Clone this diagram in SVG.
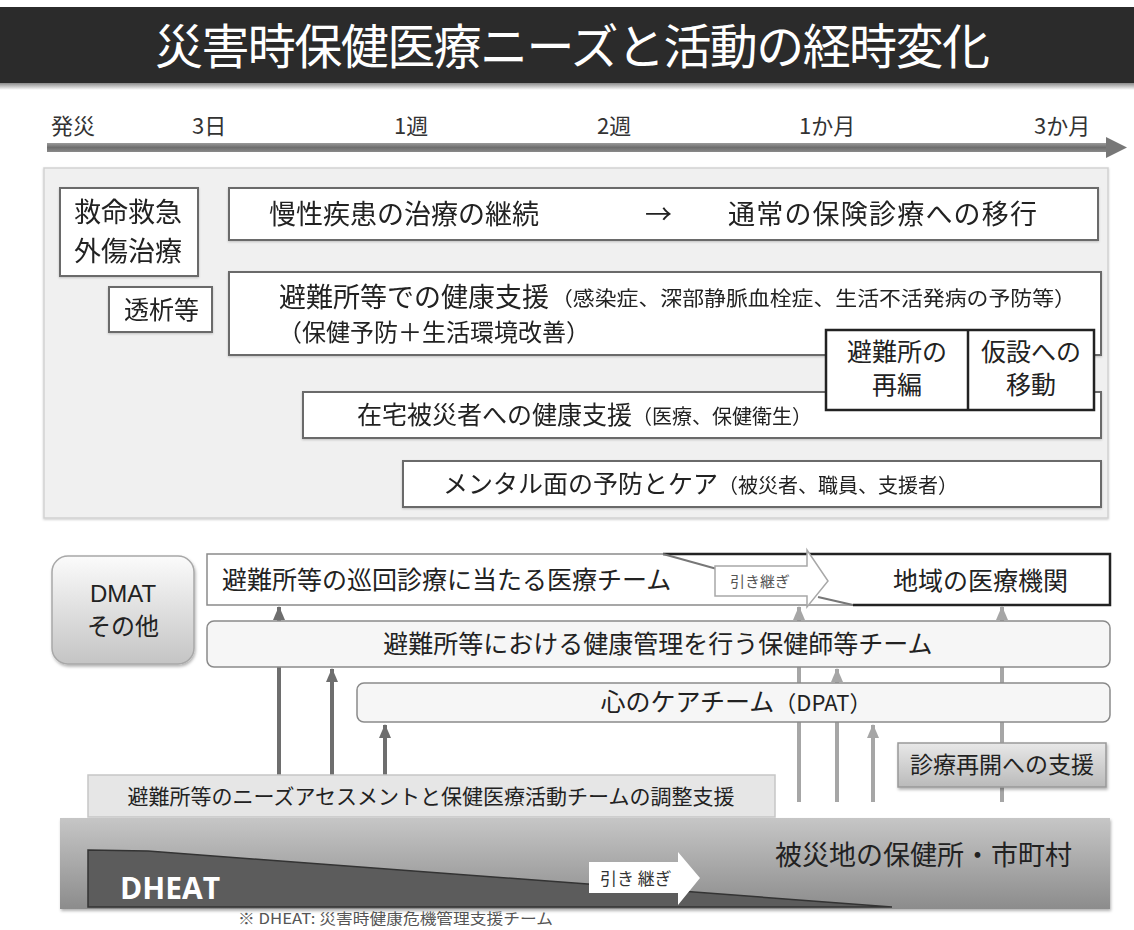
<svg xmlns="http://www.w3.org/2000/svg" width="1134" height="930" viewBox="0 0 1134 930">
<defs>
<style>
text{font-family:"Noto Sans CJK JP","Noto Sans",sans-serif;fill:#222}
.box{fill:#fff;stroke:#6a6a6a;stroke-width:2}
.rbox{fill:#f6f6f6;stroke:#8a8a8a;stroke-width:1.5}
.f27{font-size:27px}
.f25{font-size:25px}
.f24{font-size:24px}
.sm{font-size:19px}
.tl{font-size:22px;fill:#333}
.dark{stroke:#6e6e6e;stroke-width:4;fill:none}
.light{stroke:#a6a6a6;stroke-width:4;fill:none}
</style>
<linearGradient id="gShade" x1="0" y1="0" x2="0" y2="1"><stop offset="0" stop-color="#8a8a8a"/><stop offset="1" stop-color="#ffffff"/></linearGradient>
<linearGradient id="gDmat" x1="0" y1="0" x2="0" y2="1"><stop offset="0" stop-color="#fbfbfb"/><stop offset="1" stop-color="#c4c4c4"/></linearGradient>
<linearGradient id="gBtn" x1="0" y1="0" x2="0" y2="1"><stop offset="0" stop-color="#e8e8e8"/><stop offset="1" stop-color="#bababa"/></linearGradient>
<linearGradient id="gBand" x1="0" y1="0" x2="0" y2="1"><stop offset="0" stop-color="#c6c6c6"/><stop offset="1" stop-color="#8c8c8c"/></linearGradient>
<linearGradient id="gTl" x1="0" y1="0" x2="0" y2="1"><stop offset="0" stop-color="#9a9a9a"/><stop offset="0.5" stop-color="#6e6e6e"/><stop offset="1" stop-color="#8a8a8a"/></linearGradient>
<filter id="sh" x="-10%" y="-10%" width="120%" height="130%"><feDropShadow dx="1" dy="2" stdDeviation="1.5" flood-color="#000" flood-opacity="0.3"/></filter>
<filter id="sh2" x="-5%" y="-5%" width="110%" height="120%"><feDropShadow dx="0" dy="1" stdDeviation="1" flood-color="#000" flood-opacity="0.2"/></filter>
<marker id="mDark" viewBox="0 0 14 12" refX="13" refY="6" markerWidth="14" markerHeight="12" markerUnits="userSpaceOnUse" orient="auto"><path d="M0,0 L14,6 L0,12 z" fill="#6e6e6e"/></marker>
<marker id="mLight" viewBox="0 0 14 12" refX="13" refY="6" markerWidth="14" markerHeight="12" markerUnits="userSpaceOnUse" orient="auto"><path d="M0,0 L14,6 L0,12 z" fill="#a6a6a6"/></marker>
</defs>
<rect width="1134" height="930" fill="#fff"/>

<g id="title">
<rect x="0" y="7" width="1134" height="76" fill="#2b2b2b"/>
<rect x="0" y="83" width="1134" height="7" fill="url(#gShade)"/>
<text x="155" y="64" textLength="835" lengthAdjust="spacing" style="font-size:48px;fill:#fff">災害時保健医療ニーズと活動の経時変化</text>
</g>

<g id="timeline">
<text class="tl" x="51" y="134">発災</text>
<text class="tl" x="192" y="134">3日</text>
<text class="tl" x="394" y="134">1週</text>
<text class="tl" x="597" y="134">2週</text>
<text class="tl" x="799" y="134">1か月</text>
<text class="tl" x="1034" y="134">3か月</text>
<rect x="47" y="143" width="1061" height="9" fill="url(#gTl)"/>
<polygon points="1106,137 1127,147.5 1106,158" fill="#777"/>
</g>

<g id="panel">
<rect x="44" y="168" width="1064" height="350" fill="#f0f0f0" stroke="#d2d2d2" stroke-width="1.5" filter="url(#sh2)"/>
</g>

<g id="n-kyumei" filter="url(#sh2)">
<rect class="box" x="60" y="188" width="138" height="88"/>
<text class="f27" x="74" y="222">救命救急</text>
<text class="f27" x="74" y="261">外傷治療</text>
</g>
<g id="n-toseki" filter="url(#sh2)">
<rect class="box" x="109" y="287" width="103" height="45"/>
<text class="f25" x="124" y="319">透析等</text>
</g>
<g id="n-mansei" filter="url(#sh2)">
<rect class="box" x="229" y="188" width="869" height="52"/>
<text class="f27" x="269" y="224">慢性疾患の治療の継続</text>
<text class="f27" x="645" y="224">→</text>
<text class="f27" x="728" y="224" textLength="309" lengthAdjust="spacing">通常の保険診療への移行</text>
</g>
<g id="n-hinan" filter="url(#sh2)">
<rect class="box" x="229" y="272" width="872" height="83"/>
<text class="f27" x="279" y="307">避難所等での健康支援</text>
<text x="551" y="306" textLength="525" lengthAdjust="spacingAndGlyphs" style="font-size:20px">（感染症、深部静脈血栓症、生活不活発病の予防等）</text>
<text class="f24" x="278" y="341">（保健予防＋生活環境改善）</text>
</g>
<g id="n-zaitaku" filter="url(#sh2)">
<rect class="box" x="303" y="392" width="798" height="46"/>
<text class="f25" x="357" y="424">在宅被災者への健康支援<tspan style="font-size:20px">（医療、保健衛生）</tspan></text>
</g>
<g id="n-mental" filter="url(#sh2)">
<rect class="box" x="403" y="461" width="698" height="46"/>
<text class="f25" x="443" y="493">メンタル面の予防とケア<tspan style="font-size:20px">（被災者、職員、支援者）</tspan></text>
</g>
<g id="n-saihen">
<rect x="826" y="330" width="268" height="80" fill="#fff" stroke="#222" stroke-width="2.5"/>
<line x1="968" y1="330" x2="968" y2="410" stroke="#222" stroke-width="2.5"/>
<text class="f25" x="897" y="361" text-anchor="middle">避難所の</text>
<text class="f25" x="897" y="394" text-anchor="middle">再編</text>
<text class="f25" x="1031" y="361" text-anchor="middle">仮設への</text>
<text class="f25" x="1031" y="394" text-anchor="middle">移動</text>
</g>

<g id="connectors">
<line class="dark" x1="279" y1="775" x2="279" y2="607" marker-end="url(#mDark)"/>
<line class="dark" x1="332" y1="775" x2="332" y2="669" marker-end="url(#mDark)"/>
<line class="dark" x1="385" y1="775" x2="385" y2="725" marker-end="url(#mDark)"/>
<line class="light" x1="799" y1="802" x2="799" y2="607" marker-end="url(#mLight)"/>
<line class="light" x1="837" y1="802" x2="837" y2="669" marker-end="url(#mLight)"/>
<line class="light" x1="873" y1="802" x2="873" y2="725" marker-end="url(#mLight)"/>
<line class="light" x1="1002" y1="802" x2="1002" y2="607" marker-end="url(#mLight)"/>
</g>

<g id="n-dmat">
<rect x="52" y="556" width="142" height="108" rx="16" fill="url(#gDmat)" stroke="#a8a8a8" stroke-width="1.5" filter="url(#sh)"/>
<text x="123" y="602" text-anchor="middle" style="font-size:24px;font-family:'Liberation Sans','Noto Sans CJK JP',sans-serif">DMAT</text>
<text class="f24" x="123" y="635" text-anchor="middle">その他</text>
</g>
<g id="n-iryo">
<rect x="207" y="554" width="903" height="51" fill="#fff" stroke="#8a8a8a" stroke-width="1.5"/>
<polyline points="663,554 1110,554 1110,605 853,605" fill="none" stroke="#222" stroke-width="2.5"/>
<line x1="663" y1="554" x2="717" y2="569" stroke="#777" stroke-width="2"/>
<line x1="818" y1="597" x2="853" y2="605" stroke="#777" stroke-width="2"/>
<text class="f25" x="222" y="589">避難所等の巡回診療に当たる医療チーム</text>
<text class="f25" x="893" y="590">地域の医療機関</text>
</g>
<g id="n-hikitsugi1">
<polygon points="715,566 807,566 807,550 828,581 807,607 807,596 715,596" fill="#fff" stroke="#a8a8a8" stroke-width="1.5"/>
<text x="760" y="587" text-anchor="middle" style="font-size:15px;fill:#555">引き継ぎ</text>
</g>
<g id="n-hokenshi">
<rect class="rbox" x="207" y="621" width="903" height="46" rx="7"/>
<text class="f25" x="658" y="653" text-anchor="middle">避難所等における健康管理を行う保健師等チーム</text>
</g>
<g id="n-dpat">
<rect class="rbox" x="357" y="683" width="753" height="39" rx="7"/>
<text class="f25" x="736" y="711" text-anchor="middle">心のケアチーム<tspan style="font-size:22px">（DPAT）</tspan></text>
</g>
<g id="n-saikai">
<rect x="898" y="743" width="208" height="44" fill="url(#gBtn)" stroke="#999" stroke-width="1.5" filter="url(#sh)"/>
<text x="1002" y="773" text-anchor="middle" style="font-size:23px">診療再開への支援</text>
</g>
<g id="n-needs">
<rect x="88" y="775" width="687" height="42" fill="#e6e6e6" stroke="#c6c6c6" stroke-width="1.5"/>
<text x="431" y="804" text-anchor="middle" style="font-size:21px">避難所等のニーズアセスメントと保健医療活動チームの調整支援</text>
</g>
<g id="n-hokenjo">
<rect x="60" y="818" width="1050" height="91" fill="url(#gBand)" filter="url(#sh)"/>
<polygon points="88,850 148,851 892,907 88,907" fill="#5c5c5c" stroke="#333" stroke-width="1.5"/>
<text x="120" y="899" style="font-size:30px;font-weight:bold;fill:#fff;font-family:'Open Sans','Liberation Sans',sans-serif">DHEAT</text>
<polygon points="589,862 678,862 678,852 700,878 678,905 678,893 589,893" fill="#fff"/>
<text x="600" y="885" style="font-size:17px;fill:#333">引き 継ぎ</text>
<text class="f27" x="775" y="865">被災地の保健所・市町村</text>
</g>
<text x="238" y="924" textLength="315" lengthAdjust="spacingAndGlyphs" style="font-size:15px;fill:#555">※ DHEAT: 災害時健康危機管理支援チーム</text>
</svg>
